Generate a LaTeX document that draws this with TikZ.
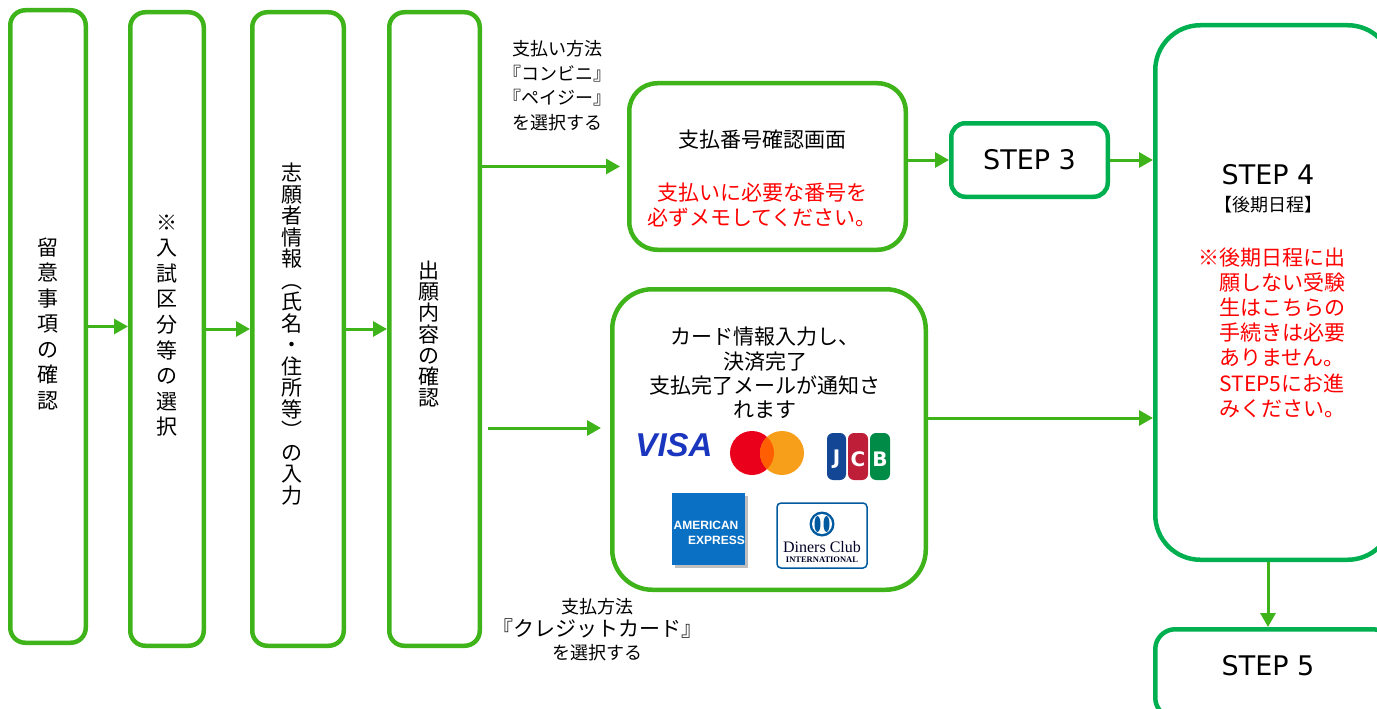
\documentclass[tikz,border=0pt]{standalone}
\usepackage{fontspec}
\setmainfont{Noto Sans CJK JP}
\newfontfamily\stepfont{DejaVu Sans}
\newfontfamily\logofont{Liberation Sans}
\newfontfamily\logoserif{Liberation Serif}
\usetikzlibrary{arrows.meta,calc}
\definecolor{flowgreen}{RGB}{63,179,26}
\definecolor{stepgreen}{RGB}{0,176,80}
\definecolor{notered}{RGB}{255,0,0}
\definecolor{visablue}{RGB}{26,54,190}
\definecolor{mcred}{RGB}{235,0,27}
\definecolor{mcorange}{RGB}{247,158,27}
\definecolor{mcmix}{RGB}{255,95,0}
\definecolor{jcbblue}{RGB}{20,70,150}
\definecolor{jcbred}{RGB}{190,30,55}
\definecolor{jcbgreen}{RGB}{0,140,70}
\definecolor{amexblue}{RGB}{10,112,196}
\definecolor{dinersblue}{RGB}{0,90,160}

\begin{document}
\begin{tikzpicture}[x=1pt,y=-1pt,
	flowbox/.style={draw=flowgreen,line width=4.5pt,rounded corners=15pt,inner sep=0pt},
	stepbox/.style={draw=stepgreen,line width=4.5pt,inner sep=0pt},
	flowarrow/.style={flowgreen,line width=3pt,-{Triangle[length=14pt,width=15pt]}},
	vtext/.style={align=center,font=\fontsize{21}{25.5}\selectfont},
	steptext/.style={font=\stepfont\fontsize{27}{32}\selectfont},
	redtext/.style={text=notered,font=\fontsize{21}{25}\selectfont}]
		\useasboundingbox (0,0) rectangle (1377,709);
		\clip (0,0) rectangle (1377,709);

		\node[flowbox,minimum width=75.5pt,minimum height=632.5pt] (b1) at (48,326.5) {};
		\node[vtext] (t1) at (48,323.5) {留\\意\\事\\項\\の\\確\\認};
		\node[flowbox,minimum width=73.5pt,minimum height=633.5pt] (b2) at (167,329) {};
		\node[vtext,font=\fontsize{21}{25.6}\selectfont] (t2) at (167,325.5) {※\\入\\試\\区\\分\\等\\の\\選\\択};
		\node[flowbox,minimum width=91.5pt,minimum height=633.5pt] (b3) at (298,329) {};
		\node[vtext,font=\fontsize{21}{21.5}\selectfont] (t3) at (292,334) {志\\願\\者\\情\\報\\︵\\氏\\名\\・\\住\\所\\等\\︶\\の\\入\\力};
		\node[flowbox,minimum width=90.5pt,minimum height=633.5pt] (b4) at (434.5,329) {};
		\node[vtext,font=\fontsize{21}{21.3}\selectfont] (t4) at (429,334) {出\\願\\内\\容\\の\\確\\認};

		\draw[flowarrow] (b1.east) -- (b1.east -| b2.west);
		\draw[flowarrow] (b2.east) -- (b2.east -| b3.west);
		\draw[flowarrow] (b3.east) -- (b3.east -| b4.west);

		\node[align=center,font=\fontsize{18}{24.5}\selectfont] (konbini) at (557,85.5) {支払い方法\\『コンビニ』\\『ペイジー』\\を選択する};
		\node[flowbox,rounded corners=28pt,minimum width=276.5pt,minimum height=166.5pt] (pay) at (767.5,166.5) {};
		\node[font=\fontsize{21}{25}\selectfont] (paytitle) at (762,140) {支払番号確認画面};
		\node[redtext,align=center] (paynote) at (762,204.5) {支払いに必要な番号を\\必ずメモしてください。};
		\draw[flowarrow,shorten >=7pt] (b4.east |- pay.west) -- (pay.west);

		\node[stepbox,rounded corners=14pt,minimum width=156.5pt,minimum height=73.5pt,steptext] (s3) at (1029.5,160) {STEP 3};
		\node[stepbox,rounded corners=45pt,minimum width=237.5pt,minimum height=534.5pt] (s4) at (1274,292.5) {};
		\node[steptext] (s4title) at (1268,175) {STEP 4};
		\node[font=\fontsize{18}{22}\selectfont] (s4sub) at (1268,205) {【後期日程】};
		\node[redtext,align=left,anchor=west,font=\fontsize{21}{25.2}\selectfont] (s4note) at (1195,332.5) {※後期日程に出\\\hspace*{1em}願しない受験\\\hspace*{1em}生はこちらの\\\hspace*{1em}手続きは必要\\\hspace*{1em}ありません。\\\hspace*{1em}STEP5にお進\\\hspace*{1em}みください。};
		\draw[flowarrow] (pay.east |- s3.west) -- (s3.west);
		\draw[flowarrow] (s3.east) -- (s3.east -| s4.west);

		\node[flowbox,rounded corners=40pt,minimum width=313.5pt,minimum height=300.5pt] (card) at (769,439.5) {};
		\node[align=center,font=\fontsize{21}{24.3}\selectfont] (cardtext) at (765,373) {カード情報入力し、\\決済完了\\支払完了メールが通知さ\\れます};
		\coordinate (cardin) at (601,428);
		\coordinate (cardout) at ($(card.east)+(0,-21.5)$);
		\draw[flowarrow,shorten <=6pt] (b4.east |- cardin) -- (cardin);
		\draw[flowarrow] (cardout) -- (cardout -| s4.west);
		\node[align=center,font=\fontsize{18}{23}\selectfont] (credit) at (597,630) {支払方法\\{\fontsize{21}{23}\selectfont『クレジットカード』}\\を選択する};

		\node[stepbox,rounded corners=20pt,minimum width=237.5pt,minimum height=88.5pt] (s5) at (1274,673.5) {};
		\node[steptext] (s5title) at (1268,666) {STEP 5};
		\draw[flowarrow] (s4.south -| s5title) -- (s5.north -| s5title);

		\node[text=visablue,font=\logofont\bfseries\itshape\fontsize{33}{33}\selectfont] (visa) at (674,445) {VISA};
		\fill[mcred] (752,453) circle (22);
		\fill[mcorange] (782,453) circle (22);
		\begin{scope}
			\clip (752,453) circle (22);
			\fill[mcmix] (782,453) circle (22);
		\end{scope}
		\fill[jcbblue,rounded corners=6pt] (827,433) rectangle (846,480);
		\fill[jcbred,rounded corners=6pt] (848,433) rectangle (868,480);
		\fill[jcbgreen,rounded corners=6pt] (870,433) rectangle (890,480);
		\node[white,font=\stepfont\bfseries\fontsize{20}{20}\selectfont] (jcbj) at (836.5,459) {J};
		\node[white,font=\stepfont\bfseries\fontsize{20}{20}\selectfont] (jcbc) at (858,459) {C};
		\node[white,font=\stepfont\bfseries\fontsize{20}{20}\selectfont] (jcbb) at (880,459) {B};
		\fill[black!25] (675,496) rectangle (748,568);
		\fill[amexblue] (672,493) rectangle (745,565);
		\node[white,font=\logofont\bfseries\fontsize{12}{12}\selectfont,inner sep=0pt] (amex1) at (706,525) {AMERICAN};
		\node[white,font=\logofont\bfseries\fontsize{12}{12}\selectfont,inner sep=0pt,anchor=east] (amex2) at (745,540) {EXPRESS};
		\draw[dinersblue,line width=1.5pt,fill=white,rounded corners=4pt] (777,503) rectangle (867,568);
		\fill[dinersblue] (822,524) circle (12.5);
		\fill[white] (822,524) circle (10);
		\fill[dinersblue] (817.5,524) ellipse (3 and 8);
		\fill[dinersblue] (826.5,524) ellipse (3 and 8);
		\node[text=black!85!blue,font=\logoserif\fontsize{16}{16}\selectfont,inner sep=0pt] (diners1) at (822,547) {Diners Club};
		\node[text=black!85!blue,font=\logoserif\bfseries\fontsize{8.5}{8.5}\selectfont,inner sep=0pt] (diners2) at (822,560) {INTERNATIONAL};

\end{tikzpicture}
\end{document}
